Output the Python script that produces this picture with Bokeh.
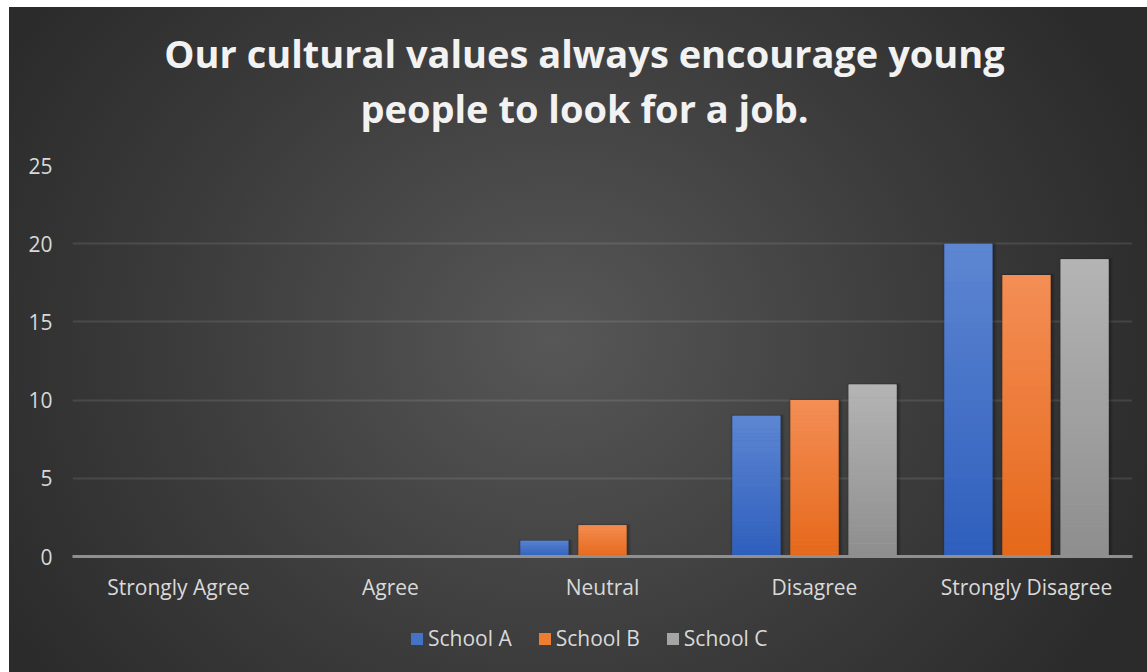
import numpy as np
from bokeh.plotting import figure
from bokeh.layouts import column
from bokeh.models import Range1d, FixedTicker, Label, Legend, LegendItem
from bokeh.embed import file_html
from bokeh.resources import INLINE

# Survey answers per school
categories = ["Strongly Agree", "Agree", "Neutral", "Disagree", "Strongly Disagree"]
series_names = ["School A", "School B", "School C"]
school_a = [0, 0, 1, 9, 20]
school_b = [0, 0, 2, 10, 18]
school_c = [0, 0, 0, 11, 19]
y_ticks = [0, 5, 10, 15, 20, 25]
title_lines = ["Our cultural values always encourage young",
               "people to look for a job."]

# base, bottom and top shades of each series' bar gradient
palette = [
    ("#4472c4", "#2e5fbd", "#5e86d2"),
    ("#ed7d31", "#e5681a", "#f48e56"),
    ("#a5a5a5", "#8e8e8e", "#b4b4b4"),
]

W = 1138
BAR_W = 0.226
OFFSETS = [-0.274, 0.0, 0.274]
TEXT = "#d9d9d9"
FONT = "Open Sans"


def bare(fig):
    fig.border_fill_color = None
    fig.background_fill_color = None
    fig.outline_line_color = None
    return fig


# ---- title strip ----
head = bare(figure(width=W, height=138, output_backend="svg", toolbar_location=None,
                   x_range=Range1d(0, 1), y_range=Range1d(0, 1),
                   min_border=0, x_axis_type=None, y_axis_type=None))
head.grid.visible = False
for txt, y in zip(title_lines, [93, 38]):
    head.add_layout(Label(x=512, y=y, x_units="screen", y_units="screen", text=txt,
                          text_align="center", text_baseline="alphabetic",
                          text_font=FONT, text_font_style="bold",
                          text_font_size="38px", text_color="#f2f2f2"))

# ---- bar chart ----
p = bare(figure(width=W, height=467, output_backend="svg", toolbar_location=None,
                x_range=Range1d(0, len(categories)), y_range=Range1d(0, 25),
                min_border_left=63, min_border_right=15,
                min_border_top=20, min_border_bottom=56))

centers = np.arange(len(categories)) + 0.5


def mix(c1, c2, t):
    a = [int(c1[i:i + 2], 16) for i in (1, 3, 5)]
    b = [int(c2[i:i + 2], 16) for i in (1, 3, 5)]
    return "#%02x%02x%02x" % tuple(round(a[k] + (b[k] - a[k]) * t) for k in range(3))


for vals, off, (base, bottom, top) in zip(
        [school_a, school_b, school_c], OFFSETS, palette):
    vals = np.array(vals, dtype=float)
    xs = centers + off
    shown = vals > 0

    # soft drop shadow behind each bar
    for grow, alpha in [(0.030, 0.07), (0.018, 0.09), (0.008, 0.12)]:
        p.vbar(x=xs[shown] + 0.006, top=vals[shown] + grow * 3, width=BAR_W + grow,
               fill_color="black", fill_alpha=alpha, line_color=None)

    p.vbar(x=xs, top=vals, width=BAR_W, fill_color=base, line_color=None)

    # vertical gradient: slice each bar into thin horizontal bands
    n = 40
    L, R, B, T, C = [], [], [], [], []
    for x, v in zip(xs, vals):
        if v <= 0:
            continue
        for i in range(n):
            L.append(x - BAR_W / 2)
            R.append(x + BAR_W / 2)
            B.append(v * i / n)
            T.append(v * (i + 1) / n + (v / n * 0.05 if i < n - 1 else 0))
            C.append(mix(bottom, top, (i + 0.5) / n))
    p.quad(left=L, right=R, bottom=B, top=T, fill_color=C, line_color=None)

p.xaxis.ticker = FixedTicker(ticks=list(centers))
p.xaxis.major_label_overrides = {float(c): cat for c, cat in zip(centers, categories)}
p.xaxis.axis_line_color = "#8f8f8f"
p.xaxis.axis_line_width = 3
p.xaxis.major_tick_line_color = None
p.xaxis.minor_tick_line_color = None
p.xaxis.major_label_standoff = 10
p.xgrid.grid_line_color = None

p.yaxis.ticker = FixedTicker(ticks=y_ticks)
p.yaxis.axis_line_color = None
p.yaxis.major_tick_line_color = None
p.yaxis.minor_tick_line_color = None
p.yaxis.major_label_standoff = 14
p.ygrid.grid_line_color = "#ffffff"
p.ygrid.grid_line_alpha = 0.1
p.ygrid.grid_line_width = 2

for ax in (p.xaxis, p.yaxis):
    ax.major_label_text_color = TEXT
    ax.major_label_text_font = FONT
    ax.major_label_text_font_size = "21px"

# ---- legend strip ----
foot = bare(figure(width=W, height=60, output_backend="svg", toolbar_location=None,
                   x_range=Range1d(0, 1), y_range=Range1d(0, 1),
                   min_border=0, x_axis_type=None, y_axis_type=None))
foot.grid.visible = False
items = []
for name, (base, _, _) in zip(series_names, palette):
    # zero-height swatch carrier: only its legend glyph is seen
    r = foot.vbar(x=[0.5], top=[0], width=0.01, fill_color=base, line_color=None)
    items.append(LegendItem(label=name, renderers=[r]))
foot.add_layout(Legend(items=items, orientation="horizontal", location=(337, 20),
                       glyph_width=15, glyph_height=15, label_standoff=4, spacing=25,
                       padding=0, margin=0, border_line_color=None,
                       background_fill_alpha=0,
                       label_text_color=TEXT, label_text_font=FONT,
                       label_text_font_size="21px"))

page = column(head, p, foot, spacing=0)
page.styles = {
    "margin-left": "9px",
    "margin-top": "7px",
    "background": "radial-gradient(ellipse 56% 85% at 48% 50%, #575757 0%, #3b3b3b 60%, #2b2b2b 100%)",
}

open("out.html", "w").write(file_html(page, INLINE))
